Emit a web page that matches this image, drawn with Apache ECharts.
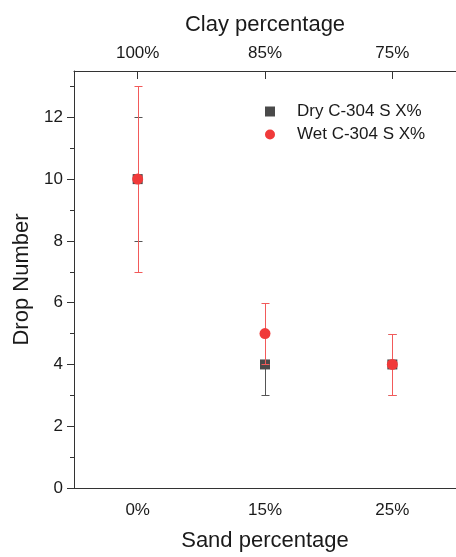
<!DOCTYPE html>
<html>
<head>
<meta charset="utf-8">
<script src="https://cdn.jsdelivr.net/npm/echarts@6/dist/echarts.min.js"></script>
<style>
  html, body { margin: 0; padding: 0; background: #fff; }
  #chart { width: 456px; height: 557px; }
</style>
</head>
<body>
<div id="chart"></div>
<script>
// Sand / clay mix categories (bottom and top axes)
const sandLabels = ['0%', '15%', '25%'];
const clayLabels = ['100%', '85%', '75%'];

// Drop number means and error half-widths
const dryMean = [10, 4, 4];
const dryErr  = [2, 1, 1];
const wetMean = [10, 5, 4];
const wetErr  = [3, 1, 1];

// Y axis ticks
const yMajor = [0, 2, 4, 6, 8, 10, 12];
const yMinor = [1, 3, 5, 7, 9, 11, 13];
const yMax = 13.5;

const FONT = '"Liberation Sans", Arial, Helvetica, sans-serif';
const AXIS_COLOR = '#333';
const TEXT_COLOR = '#1a1a1a';
const DRY_COLOR = '#4a4a4a';
const WET_COLOR = '#f03a3a';

function errorData(mean, err) {
  return mean.map((m, i) => [i, m - err[i], m + err[i]]);
}

// Vertical error bar with caps; x snapped to the pixel grid so 1px lines stay crisp
function errorBarSeries(mean, err, color, z) {
  return {
    type: 'custom',
    xAxisIndex: 0,
    yAxisIndex: 0,
    z: z,
    silent: true,
    data: errorData(mean, err),
    renderItem: function (params, api) {
      const x = api.value(0);
      const lo = api.coord([x, api.value(1)]);
      const hi = api.coord([x, api.value(2)]);
      const px = Math.round(lo[0]) + 0.5;
      const yLo = Math.round(lo[1]) + 0.5;
      const yHi = Math.round(hi[1]) + 0.5;
      const cap = 4;
      const style = { stroke: color, lineWidth: 1 };
      return {
        type: 'group',
        children: [
          { type: 'line', shape: { x1: px, y1: yLo, x2: px, y2: yHi }, style: style },
          { type: 'line', shape: { x1: px - cap, y1: yHi, x2: px + cap, y2: yHi }, style: style },
          { type: 'line', shape: { x1: px - cap, y1: yLo, x2: px + cap, y2: yLo }, style: style }
        ]
      };
    }
  };
}

const chart = echarts.init(document.getElementById('chart'), null, { renderer: 'canvas' });

chart.setOption({
  animation: false,
  backgroundColor: '#fff',
  textStyle: { fontFamily: FONT },
  grid: { left: 74, top: 71, width: 393, height: 418, containLabel: false },
  legend: {
    orient: 'vertical',
    left: 260,
    top: 98,
    itemWidth: 10,
    itemHeight: 10,
    itemGap: 6,
    textStyle: { fontFamily: FONT, fontSize: 17, color: TEXT_COLOR, padding: [0, 0, 0, 17] },
    data: [
      { name: 'Dry C-304 S X%', icon: 'rect' },
      { name: 'Wet C-304 S X%', icon: 'circle' }
    ]
  },
  xAxis: [
    {
      type: 'category',
      position: 'bottom',
      data: sandLabels,
      name: 'Sand percentage',
      nameLocation: 'middle',
      nameGap: 42,
      nameTextStyle: { fontFamily: FONT, fontSize: 22, color: TEXT_COLOR },
      axisLine: { onZero: false, lineStyle: { color: AXIS_COLOR, width: 1 } },
      axisTick: { alignWithLabel: true, length: 7, lineStyle: { color: AXIS_COLOR } },
      axisLabel: { fontFamily: FONT, fontSize: 17, color: TEXT_COLOR, margin: 14 },
      splitLine: { show: false }
    },
    {
      type: 'category',
      position: 'top',
      data: clayLabels,
      name: 'Clay percentage',
      nameLocation: 'middle',
      nameGap: 35,
      nameTextStyle: { fontFamily: FONT, fontSize: 22, color: TEXT_COLOR },
      axisLine: { show: true, onZero: false, lineStyle: { color: AXIS_COLOR, width: 1 } },
      axisTick: { show: true, alignWithLabel: true, inside: true, length: 8, lineStyle: { color: AXIS_COLOR } },
      axisLabel: { fontFamily: FONT, fontSize: 17, color: TEXT_COLOR, margin: 9 },
      splitLine: { show: false }
    }
  ],
  yAxis: [
    {
      type: 'value',
      position: 'left',
      min: 0,
      max: yMax,
      name: 'Drop Number',
      nameLocation: 'middle',
      nameGap: 38,
      nameTextStyle: { fontFamily: FONT, fontSize: 22, color: TEXT_COLOR },
      axisLine: { show: true, onZero: false, lineStyle: { color: AXIS_COLOR, width: 1 } },
      axisTick: { show: true, length: 7, customValues: yMajor, lineStyle: { color: AXIS_COLOR } },
      axisLabel: { fontFamily: FONT, fontSize: 17, color: TEXT_COLOR, margin: 11, customValues: yMajor },
      splitLine: { show: false }
    },
    {
      type: 'value',
      position: 'left',
      min: 0,
      max: yMax,
      axisLine: { show: false, onZero: false },
      axisTick: { show: true, length: 4, customValues: yMinor, lineStyle: { color: AXIS_COLOR } },
      axisLabel: { show: false },
      splitLine: { show: false }
    }
  ],
  series: [
    errorBarSeries(dryMean, dryErr, '#555', 1),
    {
      name: 'Dry C-304 S X%',
      type: 'scatter',
      xAxisIndex: 0,
      yAxisIndex: 0,
      symbol: 'rect',
      symbolSize: 10,
      z: 2,
      itemStyle: { color: DRY_COLOR, opacity: 1 },
      data: dryMean.map((v, i) => [i, v])
    },
    errorBarSeries(wetMean, wetErr, '#f25a5a', 3),
    {
      name: 'Wet C-304 S X%',
      type: 'scatter',
      xAxisIndex: 0,
      yAxisIndex: 0,
      symbol: 'circle',
      symbolSize: 11,
      z: 4,
      itemStyle: { color: WET_COLOR, opacity: 1 },
      data: wetMean.map((v, i) => [i, v])
    }
  ]
});
</script>
</body>
</html>
